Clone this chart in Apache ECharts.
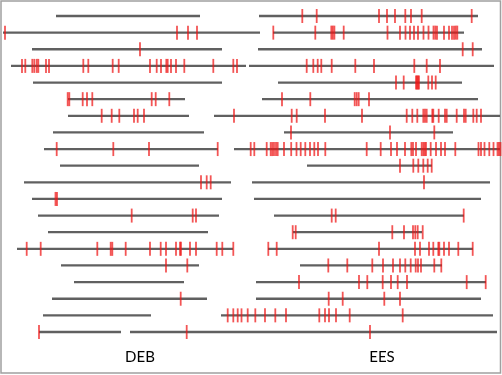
<!DOCTYPE html>
<html>
<head>
<meta charset="utf-8">
<script src="https://cdn.jsdelivr.net/npm/echarts@6/dist/echarts.min.js"></script>
<style>
html,body{margin:0;padding:0;background:#fff;}
#chart{width:502px;height:375px;}
</style>
</head>
<body>
<div id="chart"></div>
<script>
// Panel labels
var panelLabels = ['DEB', 'EES'];
var panelLabelX = [140, 382];

// Row count (top to bottom)
var rowCount = 20;

// DEB: gray segments per row [start, end]
var debSegments = [
  [[56, 200]],
  [[3, 260]],
  [[32, 222]],
  [[11, 246]],
  [[33, 222]],
  [[68, 185]],
  [[68, 189]],
  [[53, 204]],
  [[44, 218]],
  [[60, 199]],
  [[24, 231]],
  [[32, 222]],
  [[38, 219]],
  [[48, 208]],
  [[17, 233]],
  [[61, 199]],
  [[74, 184]],
  [[52, 207]],
  [[43, 151]],
  [[39, 121]]
];

// DEB: red event ticks per row
var debTicks = [
  [],
  [5, 177, 188, 197],
  [140],
  [22, 25.3, 32.3, 34.3, 36.7, 38.3, 46, 49, 83.3, 88.3, 112.7, 118.7, 150, 156.7, 161, 166.3, 167.7, 171, 176, 184.3, 213.3, 233.3, 237],
  [],
  [67.7, 69.3, 82.7, 87, 92.3, 151.7, 155.7, 169.3],
  [101.7, 111.7, 119.3, 134, 137.7, 144],
  [],
  [56.7, 113.3, 149, 217.7],
  [],
  [201, 206.7, 210.7],
  [55.5, 57],
  [131.7, 192.7, 196],
  [],
  [26.7, 40.7, 97.3, 110.7, 112.3, 125.7, 150, 160.7, 166, 176, 180, 181, 190, 196, 216.7, 222.3, 233.3],
  [166, 187.3],
  [],
  [180.7],
  [],
  [39]
];

// EES: gray segments per row
var eesSegments = [
  [[259, 478]],
  [[273, 464]],
  [[258, 482]],
  [[249, 494]],
  [[278, 462]],
  [[262, 478]],
  [[214, 500]],
  [[284, 453]],
  [[234, 500]],
  [[307, 432]],
  [[252, 490]],
  [[254, 481]],
  [[274, 464]],
  [[293, 422]],
  [[268, 473]],
  [[300, 442]],
  [[256, 486]],
  [[256, 481]],
  [[221, 493]],
  [[130, 497]]
];

// EES: red event ticks per row
var eesTicks = [
  [302.3, 316.7, 379, 387, 395, 405.3, 411, 421.7, 471.7],
  [273.3, 315.3, 331.3, 332.8, 334.4, 343.7, 387.5, 400, 405.5, 410, 414, 418, 423.5, 428.5, 433.5, 435.3, 437, 444, 449, 452, 454, 455.7, 457.3],
  [462.7, 472.7],
  [306.7, 313.3, 317.7, 321.3, 331.7, 355.3, 374, 414.3, 426.7, 440],
  [396, 403.7, 416, 417, 418, 419, 428.3, 432, 435.7],
  [282, 310.3, 354.7, 356.7, 358.7, 369],
  [234, 291.7, 296.7, 325, 362, 406.7, 412.3, 417.3, 423.3, 425, 426.7, 432.3, 433.3, 438.7, 445, 446.7, 456.7, 464, 465.7, 473.3, 476.7, 481],
  [291, 390, 434.3],
  [250.7, 254.3, 266.7, 270.7, 272.3, 274, 276, 277.7, 284, 291.2, 296.5, 300.7, 305.3, 310, 314.3, 318, 325.3, 366.7, 380.7, 391, 397, 405, 411.3, 413, 416, 421.7, 423.3, 424.7, 426, 430.7, 436, 441, 445, 455.3, 478.5, 481, 484.5, 489.3, 493.5, 497.5, 499, 500.5],
  [400, 413.3, 418.3, 423.3, 427.7, 431.7],
  [424],
  [],
  [331.7, 335.7, 463.7],
  [292.7, 295.7, 392.3, 404, 413, 415.3, 417.7, 422.7],
  [268.3, 276.7, 379, 415, 420, 429, 433.3, 438.3, 439.3, 444, 449, 458.3, 472.7],
  [328.3, 347.3, 372.3, 383, 393, 400, 405.3, 410.7, 415.7, 418, 421, 434.3, 441.3],
  [299, 359, 367.3, 382.7, 391, 397.7, 407, 466.7, 485.7],
  [328.7, 342.7, 384.3, 400],
  [227.7, 233.3, 237.7, 241.5, 247.7, 255.3, 265, 275.3, 286, 319.3, 325, 329, 336, 349.7, 402.7],
  [186.7, 370]
];

// Build series data from the arrays
function segData(rows) {
  var out = [];
  rows.forEach(function (segs, r) {
    segs.forEach(function (s) { out.push([s[0], s[1], r]); });
  });
  return out;
}
function tickData(rows) {
  var out = [];
  rows.forEach(function (ticks, r) {
    ticks.forEach(function (x) { out.push([x, r]); });
  });
  return out;
}
var allSegs = segData(debSegments).concat(segData(eesSegments));
var allTicks = tickData(debTicks).concat(tickData(eesTicks));

var chart = echarts.init(document.getElementById('chart'), null, {renderer: 'canvas'});

var option = {
  animation: false,
  backgroundColor: '#ffffff',
  grid: {left: 0, right: 0, top: 16, bottom: 43},
  xAxis: {type: 'value', min: 0, max: 502, show: false},
  yAxis: {type: 'value', min: 0, max: rowCount - 1, inverse: true, show: false},
  series: [
    {
      type: 'custom',
      clip: false,
      data: allSegs,
      encode: {x: [0, 1], y: 2},
      renderItem: function (params, api) {
        var p1 = api.coord([api.value(0), api.value(2)]);
        var p2 = api.coord([api.value(1), api.value(2)]);
        return {
          type: 'line',
          shape: {x1: p1[0], y1: p1[1], x2: p2[0], y2: p2[1]},
          style: {stroke: '#606060', lineWidth: 2.3}
        };
      }
    },
    {
      type: 'custom',
      clip: false,
      data: allTicks,
      encode: {x: 0, y: 1},
      renderItem: function (params, api) {
        var p = api.coord([api.value(0), api.value(1)]);
        return {
          type: 'line',
          shape: {x1: p[0], y1: p[1] - 7, x2: p[0], y2: p[1] + 7},
          style: {stroke: 'rgba(238,20,20,0.72)', lineWidth: 1.8}
        };
      }
    }
  ],
  graphic: [
    {
      type: 'rect',
      shape: {x: 1, y: 1, width: 499.5, height: 372},
      style: {fill: 'none', stroke: '#a0a0a0', lineWidth: 1.5},
      silent: true
    },
    {
      type: 'text',
      x: panelLabelX[0], y: 357,
      style: {text: panelLabels[0], fill: '#000', font: '15px Lato', textAlign: 'center', textVerticalAlign: 'middle'}
    },
    {
      type: 'text',
      x: panelLabelX[1], y: 357,
      style: {text: panelLabels[1], fill: '#000', font: '15px Lato', textAlign: 'center', textVerticalAlign: 'middle'}
    }
  ]
};
chart.setOption(option);
</script>
</body>
</html>
